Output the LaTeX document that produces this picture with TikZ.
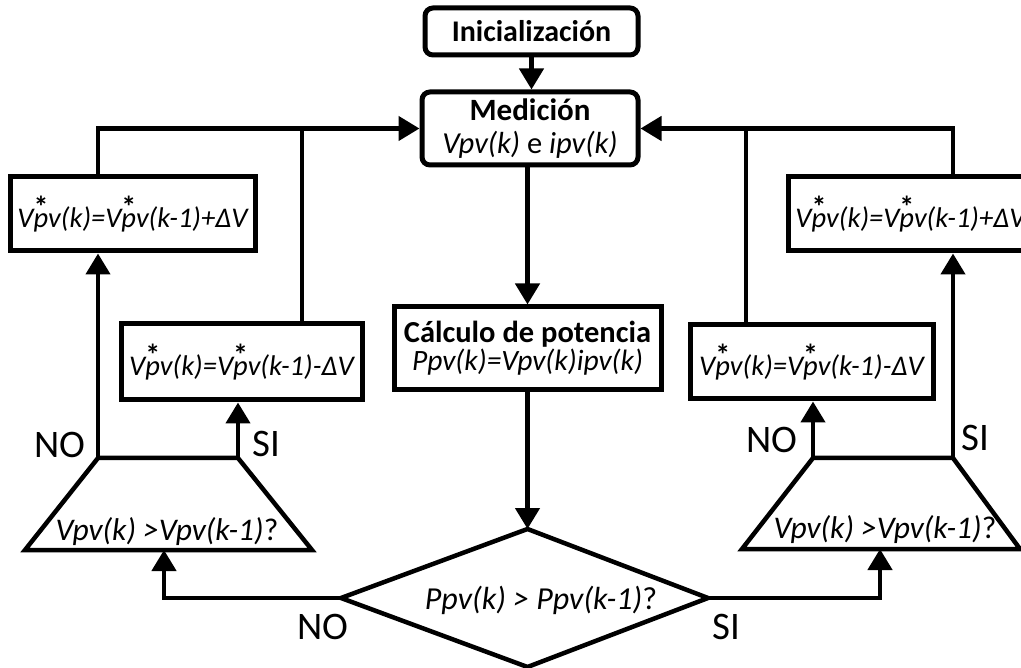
\documentclass[tikz,border=0pt]{standalone}
\usepackage{fontspec}
\setmainfont{Carlito}
\usetikzlibrary{arrows.meta}
\newcommand\vstar{V\makebox[0pt][l]{\raisebox{0.36em}{\kern0.0em\fontsize{30}{30}\selectfont\upshape\bfseries *}}pv}
\begin{document}
\begin{tikzpicture}[x=1pt,y=-1pt,
  line width=4.5pt,
  arr/.style={-{Triangle[length=21pt,width=24pt]}},
  box/.style={draw, line width=5pt, inner sep=0pt, align=center},
  rbox/.style={box, rounded corners=8pt},
  it/.style={font=\fontsize{28.5}{32}\selectfont\itshape, inner sep=0pt},
  qt/.style={font=\fontsize{31.5}{34}\selectfont\itshape, inner sep=0pt},
  bf/.style={font=\fontsize{30}{34}\selectfont\bfseries},
  lbl/.style={font=\fontsize{39}{42}\selectfont, inner sep=0pt}
]
\useasboundingbox (0,0) rectangle (1021,668);
\clip (0,0) rectangle (1021,668);

% boxes
\node[rbox, bf, minimum width=213pt, minimum height=47pt] (ini) at (531.5,31.5) {Inicialización};
\node[rbox, minimum width=216pt, minimum height=73pt, font=\fontsize{30.5}{33}\selectfont] (med) at (530,128.5)
  {{\bfseries\fontsize{31}{33}\selectfont Medición}\\{\itshape Vpv(k)} e {\itshape ipv(k)}};
\node[box, minimum width=267pt, minimum height=83pt, font=\fontsize{29.5}{28}\selectfont] (cal) at (527.5,348.5)
  {{\bfseries\fontsize{30.5}{28}\selectfont Cálculo de potencia}\\{\itshape Ppv(k)=Vpv(k)ipv(k)}};
\node[box, it, minimum width=245pt, minimum height=74pt] (l1) at (132.5,214) {\vstar(k)=\vstar(k-1)+ΔV};
\node[box, it, minimum width=241pt, minimum height=76pt] (l2) at (241.5,362) {\vstar(k)=\vstar(k-1)-ΔV};
\node[box, it, minimum width=245pt, minimum height=74pt] (r1) at (910.5,214) {\vstar(k)=\vstar(k-1)+ΔV};
\node[box, it, minimum width=243pt, minimum height=74pt] (r2) at (811.5,362) {\vstar(k)=\vstar(k-1)-ΔV};

% left trapezoid
\coordinate (lt1) at (98,458);
\coordinate (lt2) at (238,458);
\coordinate (lb1) at (25,550);
\coordinate (lb2) at (312,550);
\draw[line join=miter] (lb1) -- (lt1) -- (lt2) -- (lb2) -- cycle;
\node[qt] (ltxt) at (167,532) {Vpv(k) >Vpv(k-1){\upshape ?}};
\coordinate (lbm) at (164,550);

% right trapezoid
\coordinate (rt1) at (813,458);
\coordinate (rt2) at (953,458);
\coordinate (rb1) at (742,549);
\coordinate (rb2) at (1020,549);
\draw[line join=miter] (rb1) -- (rt1) -- (rt2) -- (rb2) -- cycle;
\node[qt] (rtxt) at (885,530) {Vpv(k) >Vpv(k-1){\upshape ?}};
\coordinate (rbm) at (880,549);

% diamond
\coordinate (dt) at (527.5,529);
\coordinate (dr) at (708,598);
\coordinate (db) at (527.5,667);
\coordinate (dl) at (341,598);
\draw[line join=miter] (dt) -- (dr) -- (db) -- (dl) -- cycle;
\node[font=\fontsize{32}{34}\selectfont\itshape, inner sep=0pt] (dtxt) at (541,600) {Ppv(k) > Ppv(k-1){\upshape ?}};

% central flow
\draw[arr] (ini.south) -- (ini.south |- med.north);
\draw[arr] (cal.north |- med.south) -- (cal.north);
\draw[arr] (cal.south) -- (dt);

% from diamond
\draw[arr] (dl) -| (lbm);
\draw[arr] (dr) -| (rbm);

% from trapezoids
\draw[arr] (lt1) -- (lt1 |- l1.south);
\draw[arr] (lt2) -- (lt2 |- l2.south);
\draw[arr] (rt1) -- (rt1 |- r2.south);
\draw[arr] (rt2) -- (rt2 |- r1.south);

% feedback loops
\coordinate (l2c) at (302,128.5);
\coordinate (r2c) at (746,128.5);
\draw[arr] (l1.north -| lt1) |- (med.west);
\draw (l2.north -| l2c) -- (l2c);
\draw[arr] (r1.north -| rt2) |- (med.east);
\draw (r2.north -| r2c) -- (r2c);

% labels
\node[lbl] (no1) at (60,445) {NO};
\node[lbl] (si1) at (266,444) {SI};
\node[lbl] (no2) at (772,440) {NO};
\node[lbl] (si2) at (975,438) {SI};
\node[lbl] (no3) at (323,627) {NO};
\node[lbl] (si3) at (726,627) {SI};
\end{tikzpicture}
\end{document}
